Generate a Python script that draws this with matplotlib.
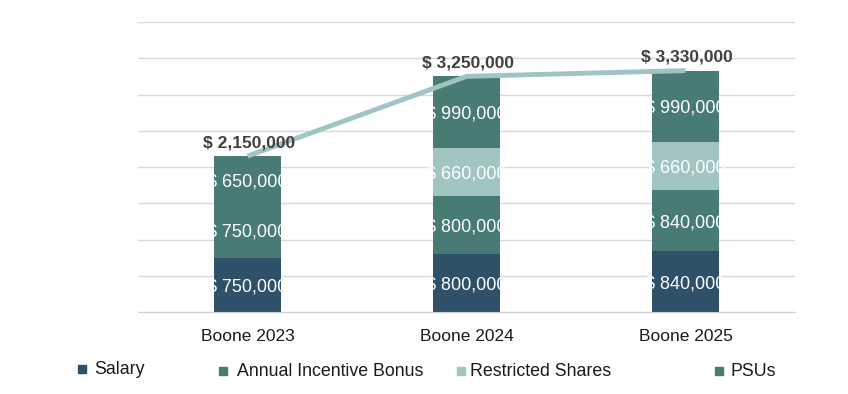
import matplotlib.pyplot as plt
from matplotlib.patches import Rectangle

plt.rcParams['font.family'] = ['Liberation Sans', 'DejaVu Sans']

categories = ["Boone 2023", "Boone 2024", "Boone 2025"]
salary = [750000, 800000, 840000]
bonus = [750000, 800000, 840000]
restricted = [0, 660000, 660000]
psus = [650000, 990000, 990000]
totals = [2150000, 3250000, 3330000]

series = [
    ("Salary", salary, "#2e5068"),
    ("Annual Incentive Bonus", bonus, "#487b75"),
    ("Restricted Shares", restricted, "#a0c5c2"),
    ("PSUs", psus, "#487b75"),
]

fig = plt.figure(figsize=(8.48, 3.94), dpi=100)
ax = fig.add_axes([138 / 848, 82 / 394, 657 / 848, 290 / 394])

x = list(range(len(categories)))
bottoms = [0] * len(categories)
for name, vals, col in series:
    bars = ax.bar(x, vals, width=0.31, bottom=bottoms, color=col, zorder=2)
    for b, v, base in zip(bars, vals, bottoms):
        if v <= 0:
            continue
        t = ax.text(b.get_x() + b.get_width() / 2, base + v / 2, f"$ {v:,.0f}",
                    ha="center", va="center_baseline", color="white", fontsize=13, zorder=3)
        t.set_clip_path(b)
    bottoms = [a + v for a, v in zip(bottoms, vals)]

ax.plot(x, totals, color="#9fc5c2", lw=3.5, zorder=4, solid_capstyle="butt")
for xi, tot in zip(x, totals):
    ax.annotate(f"$ {tot:,.0f}", (xi, tot), xytext=(1, 9.5), textcoords="offset points",
                ha="center", va="center", fontsize=12.5, fontweight="bold",
                color="#404040", zorder=5)

ax.set_xlim(-0.5, 2.5)
ax.set_ylim(0, 4000000)
ax.set_yticks(range(0, 4000001, 500000))
ax.yaxis.grid(True, color="#d9d9d9", lw=1)
ax.set_axisbelow(True)
ax.set_yticklabels([])
ax.tick_params(axis="y", length=0)
ax.tick_params(axis="x", length=0, pad=12, labelsize=12.5, labelcolor="#1a1a1a")
ax.set_xticks(x)
ax.set_xticklabels(categories)
for s in ["top", "right", "left"]:
    ax.spines[s].set_visible(False)
ax.spines["bottom"].set_color("#d0d0d0")

# legend laid out by hand to keep the uneven spacing
legend_pos = [(78, 94, 369), (219, 237, 371), (457, 470, 371), (715, 731, 371)]
for (name, vals, col), (sx, tx, ty) in zip(series, legend_pos):
    fig.patches.append(Rectangle((sx / 848, 1 - (ty + 4) / 394), 8 / 848, 8 / 394,
                                 transform=fig.transFigure, color=col))
    fig.text(tx / 848, 1 - ty / 394, name, ha="left", va="center",
             fontsize=12.8, color="#1a1a1a")

fig.savefig("out.png", dpi=100, facecolor="white")
